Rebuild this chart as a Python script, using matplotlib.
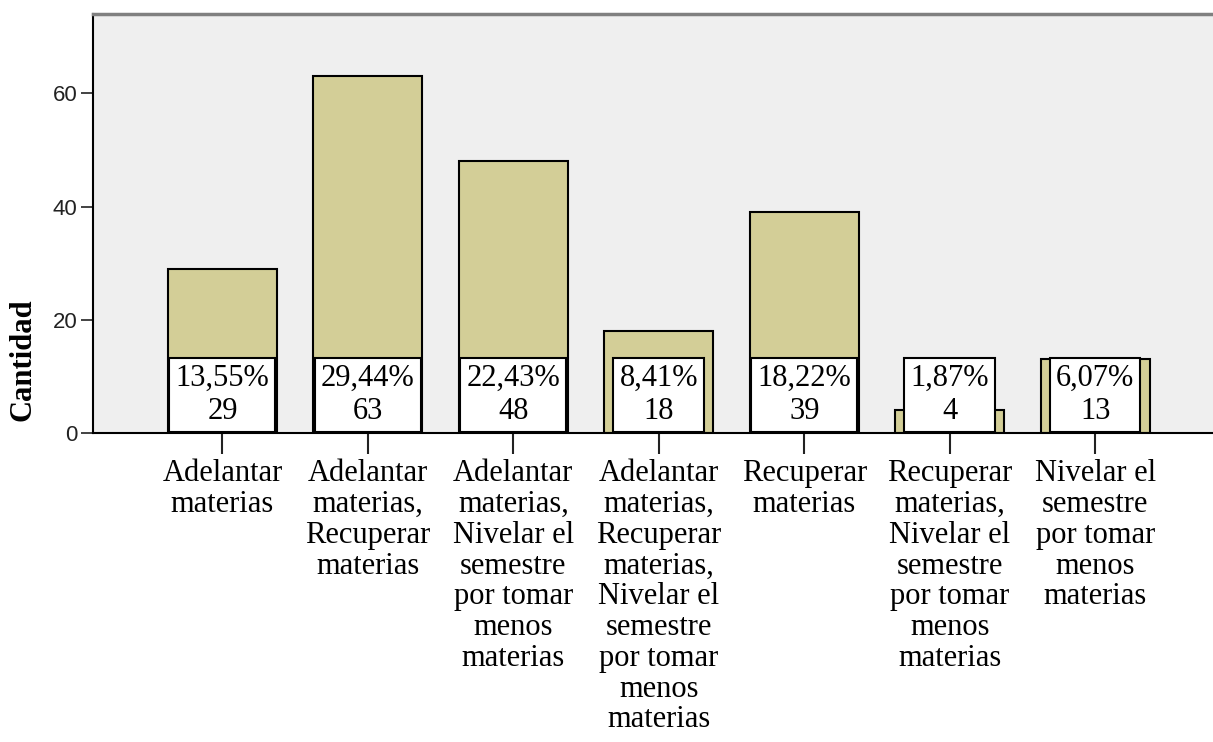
import numpy as np
import matplotlib
matplotlib.use("Agg")
import matplotlib.pyplot as plt

# Datos
categorias = [
    "Adelantar\nmaterias",
    "Adelantar\nmaterias,\nRecuperar\nmaterias",
    "Adelantar\nmaterias,\nNivelar el\nsemestre\npor tomar\nmenos\nmaterias",
    "Adelantar\nmaterias,\nRecuperar\nmaterias,\nNivelar el\nsemestre\npor tomar\nmenos\nmaterias",
    "Recuperar\nmaterias",
    "Recuperar\nmaterias,\nNivelar el\nsemestre\npor tomar\nmenos\nmaterias",
    "Nivelar el\nsemestre\npor tomar\nmenos\nmaterias",
]
cantidad = [29, 63, 48, 18, 39, 4, 13]
porcentajes = ["13,55%", "29,44%", "22,43%", "8,41%", "18,22%", "1,87%", "6,07%"]
yticks = [0, 20, 40, 60]

serif = "Liberation Serif"
sans = "Liberation Sans"

fig = plt.figure(figsize=(12.13, 7.42), dpi=100)
ax = fig.add_axes([93 / 1213, 1 - 433 / 742, 1 - 93 / 1213, (433 - 14) / 742])
ax.set_facecolor("#efefef")

x = np.arange(len(cantidad))
ax.bar(x, cantidad, width=0.75, color="#d3ce97", edgecolor="black", linewidth=1.5, zorder=2)

# etiquetas en caja blanca
for xi, p, c in zip(x, porcentajes, cantidad):
    ax.annotate(f"{p}\n{c}", xy=(xi, 0), xytext=(0, 5), textcoords="offset points",
                ha="center", va="bottom", fontsize=22, family=serif, linespacing=1.18,
                bbox=dict(boxstyle="square,pad=0.2", fc="white", ec="black", lw=1.5),
                zorder=3, annotation_clip=False)

ax.set_xlim(-0.89, 6.81)
ax.set_ylim(0, 74)

ax.set_xticks(x)
ax.set_xticklabels(categorias, fontsize=22, family=serif, linespacing=1.08, va="top")
ax.tick_params(axis="x", length=15, width=1.5, pad=4, color="#222222")

ax.set_yticks(yticks)
ax.set_yticklabels([str(v) for v in yticks], fontsize=16, family=sans, color="#222222")
ax.tick_params(axis="y", length=9, width=1.2, pad=2, color="#222222")

ax.set_ylabel("Cantidad", fontsize=22, family=serif, fontweight="bold")
ax.yaxis.set_label_coords((38 - 93) / (1213 - 93), 0.174)

ax.spines["right"].set_visible(False)
ax.spines["top"].set_color("#808080")
ax.spines["top"].set_linewidth(2.5)
ax.spines["left"].set_linewidth(1.5)
ax.spines["bottom"].set_linewidth(1.5)

fig.savefig("out.png", dpi=100)
